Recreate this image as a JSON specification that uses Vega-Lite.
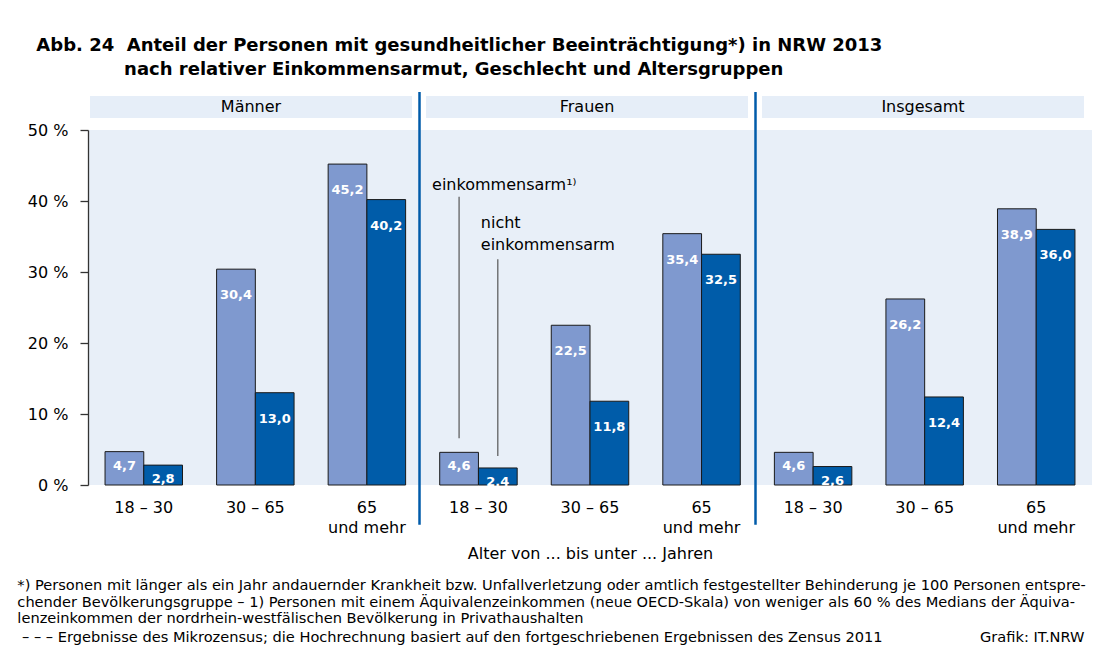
{
  "$schema": "https://vega.github.io/schema/vega-lite/v6.json",
  "padding": {"left": 17, "top": 36, "right": 0, "bottom": 5},
  "config": {
    "font": "DejaVu Sans",
    "locale": {"number": {"decimal": ",", "thousands": ".", "grouping": [3], "currency": ["", " €"]}},
    "view": {"stroke": null, "fill": "#E8EFF8"},
    "axis": {"labelColor": "#000", "titleColor": "#000", "labelFont": "DejaVu Sans", "titleFont": "DejaVu Sans"},
    "title": {"color": "#000", "subtitleColor": "#000", "font": "DejaVu Sans", "subtitleFont": "DejaVu Sans"}
  },
  "title": {
    "text": [
      "*) Personen mit länger als ein Jahr andauernder Krankheit bzw. Unfallverletzung oder amtlich festgestellter Behinderung je 100 Personen entspre-",
      "chender Bevölkerungsgruppe – 1) Personen mit einem Äquivalenzeinkommen (neue OECD-Skala) von weniger als 60 % des Medians der Äquiva-",
      "lenzeinkommen der nordrhein-westfälischen Bevölkerung in Privathaushalten"
    ],
    "subtitle": "\u200b\u00a0– – – Ergebnisse des Mikrozensus; die Hochrechnung basiert auf den fortgeschriebenen Ergebnissen des Zensus 2011\u00a0\u00a0\u00a0\u00a0\u00a0\u00a0\u00a0\u00a0\u00a0\u00a0\u00a0\u00a0\u00a0\u00a0\u00a0\u00a0\u00a0\u00a0\u00a0\u00a0\u00a0Grafik: IT.NRW",
    "orient": "bottom",
    "anchor": "start",
    "frame": "bounds",
    "dx": -10,
    "fontSize": 14.6,
    "fontWeight": "normal",
    "lineHeight": 16.5,
    "subtitleFontSize": 14.6,
    "subtitlePadding": 4,
    "offset": 17
  },
  "vconcat": [
    {
      "width": 1004,
      "height": 355,
      "title": {
        "text": [
          "Abb. 24\u00a0\u00a0Anteil der Personen mit gesundheitlicher Beeinträchtigung*) in NRW 2013",
          "\u200b\u00a0\u00a0\u00a0\u00a0\u00a0\u00a0\u00a0\u00a0\u00a0\u00a0\u00a0\u00a0\u00a0\u00a0nach relativer Einkommensarmut, Geschlecht und Altersgruppen"
        ],
        "anchor": "start",
        "frame": "bounds",
        "dx": 9,
        "fontSize": 18,
        "fontWeight": "bold",
        "lineHeight": 24,
        "offset": 12
      },
      "layer": [
        {
          "data": {"values": [{"panel": "Männer"}, {"panel": "Frauen"}, {"panel": "Insgesamt"}]},
          "encoding": {
            "x": {"field": "panel", "type": "nominal", "sort": ["Männer", "Frauen", "Insgesamt"], "axis": null,
                  "scale": {"paddingInner": 0.0417, "paddingOuter": 0.0149, "align": 0.2}}
          },
          "layer": [
            {
              "mark": {"type": "bar", "color": "#E6EEF8"},
              "encoding": {
                "y": {"datum": 54.8, "type": "quantitative", "scale": {"domain": [0, 50]}, "axis": {"title": null}},
                "y2": {"datum": 51.7}
              }
            },
            {
              "mark": {"type": "text", "fontSize": 16, "baseline": "middle", "color": "#000"},
              "encoding": {
                "y": {"datum": 53.25, "type": "quantitative", "scale": {"domain": [0, 50]}, "axis": {"title": null}},
                "text": {"field": "panel"}
              }
            },
            {
              "transform": [{"filter": "datum.panel != 'Männer'"}],
              "mark": {"type": "rule", "color": "#005BAA", "strokeWidth": 2.5, "xOffset": -6.5},
              "encoding": {
                "x": {"field": "panel", "type": "nominal", "sort": ["Männer", "Frauen", "Insgesamt"], "axis": null, "bandPosition": 0,
                      "scale": {"paddingInner": 0.0417, "paddingOuter": 0.0149, "align": 0.2}},
                "y": {"datum": -5.6, "type": "quantitative", "scale": {"domain": [0, 50]}, "axis": {"title": null}},
                "y2": {"datum": 55.35}
              }
            }
          ]
        },
        {
          "data": {"values": [
            {"p": "Männer", "a": "18 – 30", "k": "Männer|18 – 30", "g": "einkommensarm", "v": 4.7},
            {"p": "Männer", "a": "18 – 30", "k": "Männer|18 – 30", "g": "nicht einkommensarm", "v": 2.8},
            {"p": "Männer", "a": "30 – 65", "k": "Männer|30 – 65", "g": "einkommensarm", "v": 30.4},
            {"p": "Männer", "a": "30 – 65", "k": "Männer|30 – 65", "g": "nicht einkommensarm", "v": 13.0},
            {"p": "Männer", "a": "65", "k": "Männer|65", "g": "einkommensarm", "v": 45.2},
            {"p": "Männer", "a": "65", "k": "Männer|65", "g": "nicht einkommensarm", "v": 40.2},
            {"p": "Frauen", "a": "18 – 30", "k": "Frauen|18 – 30", "g": "einkommensarm", "v": 4.6},
            {"p": "Frauen", "a": "18 – 30", "k": "Frauen|18 – 30", "g": "nicht einkommensarm", "v": 2.4},
            {"p": "Frauen", "a": "30 – 65", "k": "Frauen|30 – 65", "g": "einkommensarm", "v": 22.5},
            {"p": "Frauen", "a": "30 – 65", "k": "Frauen|30 – 65", "g": "nicht einkommensarm", "v": 11.8},
            {"p": "Frauen", "a": "65", "k": "Frauen|65", "g": "einkommensarm", "v": 35.4},
            {"p": "Frauen", "a": "65", "k": "Frauen|65", "g": "nicht einkommensarm", "v": 32.5},
            {"p": "Insgesamt", "a": "18 – 30", "k": "Insgesamt|18 – 30", "g": "einkommensarm", "v": 4.6},
            {"p": "Insgesamt", "a": "18 – 30", "k": "Insgesamt|18 – 30", "g": "nicht einkommensarm", "v": 2.6},
            {"p": "Insgesamt", "a": "30 – 65", "k": "Insgesamt|30 – 65", "g": "einkommensarm", "v": 26.2},
            {"p": "Insgesamt", "a": "30 – 65", "k": "Insgesamt|30 – 65", "g": "nicht einkommensarm", "v": 12.4},
            {"p": "Insgesamt", "a": "65", "k": "Insgesamt|65", "g": "einkommensarm", "v": 38.9},
            {"p": "Insgesamt", "a": "65", "k": "Insgesamt|65", "g": "nicht einkommensarm", "v": 36.0}
          ]},
          "encoding": {
            "x": {
              "field": "k", "type": "nominal",
              "scale": {"domain": ["Männer|18 – 30", "Männer|30 – 65", "Männer|65", "Frauen|18 – 30", "Frauen|30 – 65", "Frauen|65", "Insgesamt|18 – 30", "Insgesamt|30 – 65", "Insgesamt|65"],
                        "paddingInner": 0, "paddingOuter": 0},
              "axis": {
                "labelExpr": "split(datum.value, '|')[1] == '65' ? ['65', 'und mehr'] : split(datum.value, '|')[1]",
                "labelAngle": 0, "ticks": false, "domain": false, "labelPadding": 14,
                "labelFontSize": 16, "labelLineHeight": 20,
                "title": "Alter von ... bis unter ... Jahren",
                "titleFontSize": 16, "titleFontWeight": "normal", "titlePadding": 10
              }
            }
          },
          "layer": [
            {
              "mark": {"type": "bar", "stroke": "#1a1a1a", "strokeWidth": 1},
              "encoding": {
                "xOffset": {"field": "g", "type": "nominal", "sort": ["einkommensarm", "nicht einkommensarm"], "scale": {"paddingInner": 0, "paddingOuter": 0.44}},
                "y": {"field": "v", "type": "quantitative", "scale": {"domain": [0, 50]},
                      "axis": {"values": [0, 10, 20, 30, 40, 50], "labelExpr": "datum.value + ' %'", "tickSize": 8,
                               "tickColor": "#333", "tickWidth": 1.3, "domainColor": "#333", "domainWidth": 1.3,
                               "labelFontSize": 16, "labelPadding": 12, "grid": false, "title": null}},
                "color": {"field": "g", "type": "nominal", "scale": {"domain": ["einkommensarm", "nicht einkommensarm"], "range": ["#7F99CF", "#005CA9"]}, "legend": null}
              }
            },
            {
              "transform": [{"filter": "datum.v >= 10"}],
              "mark": {"type": "text", "color": "white", "fontWeight": "bold", "fontSize": 13, "baseline": "middle", "dy": 26},
              "encoding": {
                "xOffset": {"field": "g", "type": "nominal", "sort": ["einkommensarm", "nicht einkommensarm"], "scale": {"paddingInner": 0, "paddingOuter": 0.44}},
                "y": {"field": "v", "type": "quantitative", "scale": {"domain": [0, 50]}, "axis": {"title": null}},
                "text": {"field": "v", "type": "quantitative", "format": ".1f"}
              }
            },
            {
              "transform": [{"filter": "datum.v < 10"}],
              "mark": {"type": "text", "color": "white", "fontWeight": "bold", "fontSize": 13, "baseline": "middle", "dy": 14},
              "encoding": {
                "xOffset": {"field": "g", "type": "nominal", "sort": ["einkommensarm", "nicht einkommensarm"], "scale": {"paddingInner": 0, "paddingOuter": 0.44}},
                "y": {"field": "v", "type": "quantitative", "scale": {"domain": [0, 50]}, "axis": {"title": null}},
                "text": {"field": "v", "type": "quantitative", "format": ".1f"}
              }
            },
            {
              "transform": [{"filter": "datum.k == 'Frauen|18 – 30' && datum.g == 'einkommensarm'"}],
              "mark": {"type": "rule", "color": "#555", "strokeWidth": 1.2},
              "encoding": {
                "xOffset": {"field": "g", "type": "nominal", "sort": ["einkommensarm", "nicht einkommensarm"], "scale": {"paddingInner": 0, "paddingOuter": 0.44}},
                "y": {"datum": 6.6, "type": "quantitative", "scale": {"domain": [0, 50]}, "axis": {"title": null}},
                "y2": {"datum": 40.6}
              }
            },
            {
              "transform": [{"filter": "datum.k == 'Frauen|18 – 30' && datum.g == 'einkommensarm'"}],
              "mark": {"type": "text", "align": "left", "baseline": "alphabetic", "dx": -27, "fontSize": 16, "color": "#000"},
              "encoding": {
                "xOffset": {"field": "g", "type": "nominal", "sort": ["einkommensarm", "nicht einkommensarm"], "scale": {"paddingInner": 0, "paddingOuter": 0.44}},
                "y": {"datum": 41.6, "type": "quantitative", "scale": {"domain": [0, 50]}, "axis": {"title": null}},
                "text": {"value": "einkommensarm¹⁾"}
              }
            },
            {
              "transform": [{"filter": "datum.k == 'Frauen|18 – 30' && datum.g == 'nicht einkommensarm'"}],
              "mark": {"type": "rule", "color": "#555", "strokeWidth": 1.2},
              "encoding": {
                "xOffset": {"field": "g", "type": "nominal", "sort": ["einkommensarm", "nicht einkommensarm"], "scale": {"paddingInner": 0, "paddingOuter": 0.44}},
                "y": {"datum": 4.1, "type": "quantitative", "scale": {"domain": [0, 50]}, "axis": {"title": null}},
                "y2": {"datum": 31.8}
              }
            },
            {
              "transform": [{"filter": "datum.k == 'Frauen|18 – 30' && datum.g == 'nicht einkommensarm'"}],
              "mark": {"type": "text", "align": "left", "baseline": "alphabetic", "dx": -17, "fontSize": 16, "lineHeight": 22, "color": "#000"},
              "encoding": {
                "xOffset": {"field": "g", "type": "nominal", "sort": ["einkommensarm", "nicht einkommensarm"], "scale": {"paddingInner": 0, "paddingOuter": 0.44}},
                "y": {"datum": 36.2, "type": "quantitative", "scale": {"domain": [0, 50]}, "axis": {"title": null}},
                "text": {"value": ["nicht", "einkommensarm"]}
              }
            }
          ]
        }
      ],
      "resolve": {"scale": {"x": "independent"}, "axis": {"x": "independent"}}
    }
  ]
}
